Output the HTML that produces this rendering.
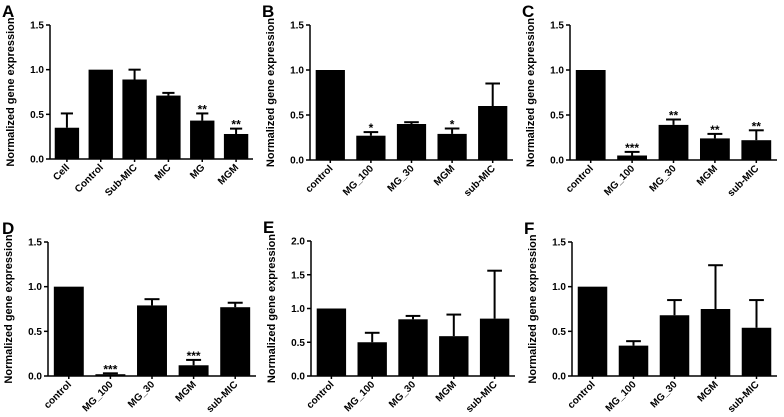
<!DOCTYPE html>
<html><head><meta charset="utf-8"><style>
html,body{margin:0;padding:0;background:#fff;}
svg{display:block;font-family:"Liberation Sans",Arial,sans-serif;}
</style></head><body>
<svg id="fig" width="784" height="417" viewBox="0 0 784 417"></svg>
<script>
const catsA = ["Cell","Control","Sub-MIC","MIC","MG","MGM"];
const catsB = ["control","MG_100","MG_30","MGM","sub-MIC"];
const valsA = [0.35,1.0,0.89,0.71,0.43,0.28];
const errA  = [0.51,1.0,1.0,0.74,0.51,0.34];
const sigA  = ["","","","","**","**"];
const valsB = [1.0,0.27,0.40,0.29,0.60];
const errB  = [1.0,0.31,0.42,0.35,0.85];
const sigB  = ["","*","","*",""];
const valsC = [1.0,0.05,0.39,0.24,0.22];
const errC  = [1.0,0.09,0.45,0.29,0.33];
const sigC  = ["","***","**","**","**"];
const valsD = [1.0,0.02,0.79,0.12,0.77];
const errD  = [1.0,0.03,0.86,0.18,0.82];
const sigD  = ["","***","","***",""];
const valsE = [1.0,0.50,0.84,0.59,0.85];
const errE  = [1.0,0.64,0.89,0.91,1.56];
const sigE  = ["","","","",""];
const valsF = [1.0,0.34,0.68,0.75,0.54];
const errF  = [1.0,0.39,0.85,1.24,0.85];
const sigF  = ["","","","",""];
const ticks15 = ["0.0","0.5","1.0","1.5"];
const ticks20 = ["0.0","0.5","1.0","1.5","2.0"];

const NS="http://www.w3.org/2000/svg";
const svg=document.getElementById('fig');
function mk(tag,attrs,parent,text){const e=document.createElementNS(NS,tag);for(const k in attrs)e.setAttribute(k,attrs[k]);if(text!==undefined)e.textContent=text;(parent||svg).appendChild(e);return e;}

function panel(id,letter,x0,x1,yb,yt,cats,vals,errs,sigs,ticks){
  const g=mk('g',{});
  
  
  const ymax=parseFloat(ticks[ticks.length-1]);
  const ys=v=>yb-(v/ymax)*(yb-yt);
  const band=(x1-x0)/cats.length;
  const bw=band*0.72;
  const lt=mk('text',{x:Math.max(2,x0-48),y:yt-8,'font-size':17,'font-weight':'bold'},g,letter);
  
  
  const ya=mk('line',{x1:x0,y1:yb,x2:x0,y2:yt,stroke:'#000','stroke-width':1.5},g);
  
  
  const xa=mk('line',{x1:x0,y1:yb,x2:x1,y2:yb,stroke:'#000','stroke-width':1.5},g);
  
  
  ticks.forEach(t=>{
    const y=ys(parseFloat(t));
    mk('line',{x1:x0-4,y1:y,x2:x0,y2:y,stroke:'#000','stroke-width':1.5},g);
    const tt=mk('text',{x:x0-6,y:y+3.5,'font-size':10,'font-weight':'bold','text-anchor':'end'},g,t);
    
    
  });
  const yc=(yb+yt)/2;
  const yt2=mk('text',{x:x0-36,y:yc,'font-size':11,'font-weight':'bold','text-anchor':'middle',transform:`rotate(-90 ${x0-36} ${yc})`},g,'Normalized gene expression');
  
  
  cats.forEach((c,i)=>{
    const cx=x0+band*(i+0.5);
    const top=ys(vals[i]);
    const r=mk('rect',{x:cx-bw/2,y:top,width:bw,height:yb-top,fill:'#000'},g);
    
    
    if(errs[i]>vals[i]){
      const ey=ys(errs[i]);
      const e1=mk('line',{x1:cx,y1:top,x2:cx,y2:ey,stroke:'#000','stroke-width':2},g);
      
      
      mk('line',{x1:cx-bw/4,y1:ey,x2:cx+bw/4,y2:ey,stroke:'#000','stroke-width':2},g);
    }
    if(sigs[i]){
      const st=mk('text',{x:cx,y:ys(Math.max(errs[i],vals[i]))+6,'font-size':12,'font-weight':'bold','text-anchor':'middle','dominant-baseline':'text-after-edge'},g,sigs[i]);
      st.setAttribute('y',ys(Math.max(errs[i],vals[i]))+3);
      st.setAttribute('dominant-baseline','auto');
      
      
      st.setAttribute('y',ys(Math.max(errs[i],vals[i]))-1+ 0);
      st.setAttribute('dy','3');
      st.setAttribute('dy','0');
      st.setAttribute('y',ys(Math.max(errs[i],vals[i]))+4);
      st.setAttribute('transform','translate(0,-4)');
    }
    mk('line',{x1:cx,y1:yb,x2:cx,y2:yb+3,stroke:'#000','stroke-width':1.5},g);
    const lx=cx+3,ly=yb+9;
    const xl=mk('text',{x:lx,y:ly,'font-size':10,'font-weight':'bold','text-anchor':'end',transform:`rotate(-45 ${lx} ${ly})`},g,c);
    
    
  });
}
panel('a','A',50,253,159,25,catsA,valsA,errA,sigA,ticks15);
panel('b','B',310,513,160,25,catsB,valsB,errB,sigB,ticks15);
panel('c','C',570,777,160,25,catsB,valsC,errC,sigC,ticks15);
panel('d','D',48,256,376,242,catsB,valsD,errD,sigD,ticks15);
panel('e','E',311,515,376,241,catsB,valsE,errE,sigE,ticks20);
panel('f','F',572,777,376,242,catsB,valsF,errF,sigF,ticks15);
</script>
</body></html>
